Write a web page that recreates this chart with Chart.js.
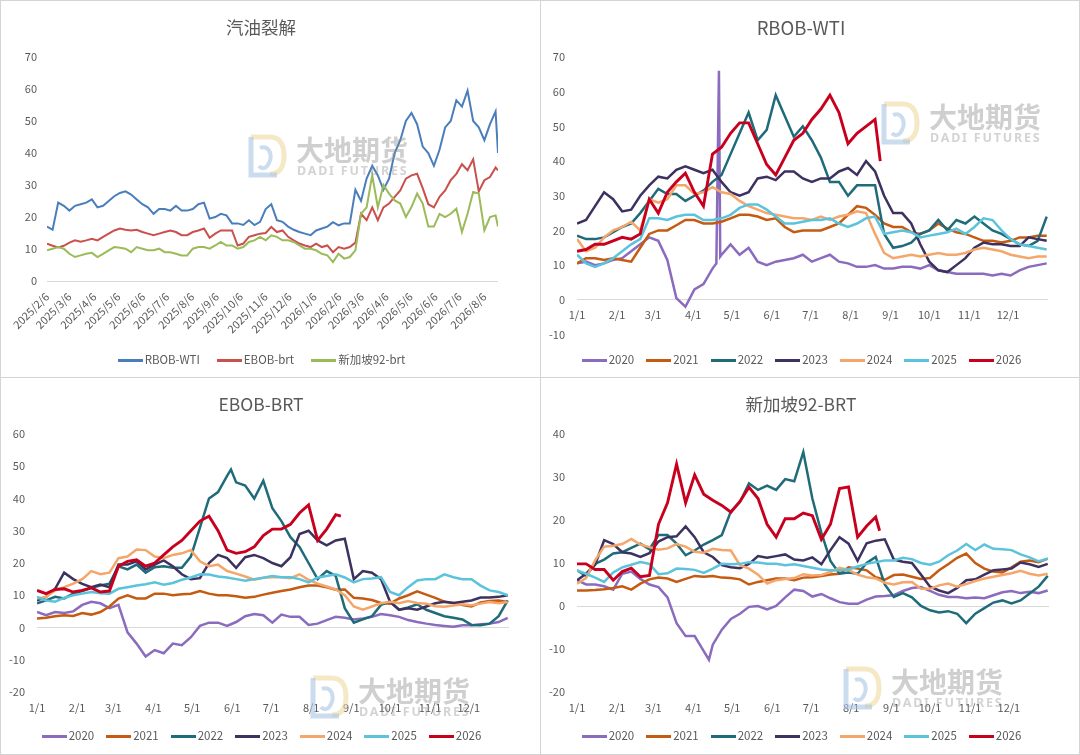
<!DOCTYPE html>
<html>
<head>
<meta charset="utf-8">
<script src="https://cdn.jsdelivr.net/npm/chart.js@4.4.1/dist/chart.umd.min.js"></script>
<style>
  html, body { margin: 0; padding: 0; background: #fff; }
  #board { position: relative; width: 1080px; height: 755px; overflow: hidden;
           font-family: "Noto Sans CJK SC", "Noto Sans", sans-serif; }
  .panel { position: absolute; background: #fff; }
  .plot { position: absolute; left: 0; top: 0; width: 100%; height: 100%; }
  .title { position: absolute; left: 0; width: 522px; top: 15px; line-height: 24px;
           text-align: center; font-size: 17.5px; color: #595959; }
  .legend { position: absolute; left: 0; width: 523px; line-height: 16px; text-align: center;
            font-size: 11.5px; color: #595959; white-space: nowrap; }
  .legend .item { display: inline-block; margin: 0 6px; }
  .legend i { display: inline-block; width: 25px; height: 3px; vertical-align: middle; margin-right: 2px; }
  .mark { position: absolute; width: 180px; height: 50px; pointer-events: none; z-index: 2; }
  .mark svg { position: absolute; left: 0; top: 0; }
  .mk-cn { position: absolute; left: 51px; top: 1px; font-size: 28px; line-height: 30px; font-weight: bold;
           color: rgba(140, 140, 140, 0.42); white-space: nowrap; }
  .mk-en { position: absolute; left: 52px; top: 31px; font-size: 12.5px; line-height: 13px; font-weight: bold;
           letter-spacing: 1.8px; color: rgba(140, 140, 140, 0.38); white-space: nowrap; font-family: "Noto Sans", sans-serif; }
  .rule { position: absolute; background: #d4d4d4; z-index: 3; }
</style>
</head>
<body>
<div id="board">
  <div class="panel" id="pan1" style="left:0;top:0;width:540px;height:377px">
    <div class="plot"><canvas id="c1"></canvas></div>
    <div class="title">汽油裂解</div>
    <div class="legend" id="lg1" style="top:351px"></div>
  </div>
  <div class="panel" id="pan2" style="left:540px;top:0;width:540px;height:377px">
    <div class="plot"><canvas id="c2"></canvas></div>
    <div class="title" style="font-size:18.5px">RBOB-WTI</div>
    <div class="legend" id="lg2" style="top:351px"></div>
  </div>
  <div class="panel" id="pan3" style="left:0;top:377px;width:540px;height:378px">
    <div class="plot"><canvas id="c3"></canvas></div>
    <div class="title">EBOB-BRT</div>
    <div class="legend" id="lg3" style="top:350px"></div>
  </div>
  <div class="panel" id="pan4" style="left:540px;top:377px;width:540px;height:378px">
    <div class="plot"><canvas id="c4"></canvas></div>
    <div class="title">新加坡92-BRT</div>
    <div class="legend" id="lg4" style="top:350px"></div>
  </div>
  <div class="rule" style="left:0;top:0;width:1080px;height:1px"></div>
  <div class="rule" style="left:0;top:754px;width:1080px;height:1px"></div>
  <div class="rule" style="left:0;top:0;width:1px;height:755px"></div>
  <div class="rule" style="left:1079px;top:0;width:1px;height:755px"></div>
  <div class="rule" style="left:540px;top:0;width:1px;height:755px"></div>
  <div class="rule" style="left:0;top:377px;width:1080px;height:1px"></div>
</div>
<script>
// ---- time series (汽油裂解), weekly from 2025/2/6 ----
const TS_NAMES = ['RBOB-WTI', 'EBOB-brt', '新加坡92-brt'];
const TS_COLORS = ['#4a7ebb', '#c9504c', '#9bbb59'];
const TS_TICK_LABELS = ['2025/2/6', '2025/3/6', '2025/4/6', '2025/5/6', '2025/6/6', '2025/7/6', '2025/8/6',
  '2025/9/6', '2025/10/6', '2025/11/6', '2025/12/6', '2026/1/6', '2026/2/6', '2026/3/6', '2026/4/6',
  '2026/5/6', '2026/6/6', '2026/7/6', '2026/8/6'];
const TS_DAYS = Array.from({ length: 81 }, (_, i) => i * 7).concat([563]);

const TS_RBOB = [17, 16, 24.5, 23.5, 22, 23.5, 24, 24.5, 25.5, 23,
  23.5, 25, 26.5, 27.5, 28, 27, 25.5, 24, 23, 21,
  22.5, 22.5, 22, 23.5, 22, 22, 22.5, 24, 24.5, 19.5,
  20, 21, 20.5, 18, 18, 17.5, 19, 17.5, 18.5, 22.5,
  24, 19, 18.5, 17, 16, 15.3, 14.8, 14.3, 15.8, 16.4,
  17, 18.4, 17.4, 18, 18, 28.5, 25, 32, 36, 33,
  28.5, 32, 40, 44, 50, 52.5, 49, 42, 40, 36,
  41, 48, 50, 56.5, 54.5, 59.5, 50, 48, 44, 49,
  53, 40];
const TS_EBOB = [11.7, 11, 10.5, 11, 12, 12.7, 12.3, 12.7, 13.2, 12.7,
  13.8, 14.8, 15.8, 16.4, 16, 15.8, 16, 15.3, 14.8, 14.3,
  14.8, 15.3, 15.8, 15.3, 14.3, 14.3, 15.3, 15.8, 16.4, 13.5,
  14.8, 15.8, 15.8, 15.8, 11.1, 11.7, 13.8, 14.3, 14.8, 15,
  16.9, 15.3, 15.8, 13.8, 12.7, 11.7, 11.1, 10.6, 11.7, 10.6,
  11.1, 9, 10.6, 10.1, 10.6, 12, 21, 19, 23, 19,
  23, 24.2, 26.3, 28.3, 32, 33, 33.5, 29, 24, 23,
  26.3, 28.3, 31.5, 33.5, 36.5, 34.6, 38, 28, 31.5, 32.5,
  35.5, 34.6];
const TS_SG = [9.6, 10.1, 10.6, 10.1, 8.5, 7.5, 8, 8.5, 8.8, 7.5,
  8.5, 9.6, 10.6, 10.4, 10.1, 9, 10.6, 10.1, 9.6, 9.6,
  10.1, 9, 9, 8.5, 8, 8, 10.1, 10.6, 10.6, 10.1,
  11.1, 12.2, 11.1, 11.1, 10.1, 10.6, 12.2, 12.7, 13.8, 12.7,
  14.3, 13.8, 12.7, 12.7, 12.2, 11.1, 10.1, 10.1, 9.6, 8.5,
  8, 5.9, 8.5, 7, 7.5, 9.6, 21, 23, 33, 23,
  30, 27.3, 25.2, 24.2, 20, 23.1, 27.3, 24.2, 17, 17,
  21, 20, 21, 22.6, 15.3, 21, 27.8, 27.3, 15.8, 20,
  20.5, 17];

// ---- seasonal charts, weekly day-of-year ----
const YEARS = ['2020', '2021', '2022', '2023', '2024', '2025', '2026'];
const YEAR_COLORS = ['#8a6bbe', '#c55a11', '#1f6b79', '#3d3160', '#f4a66b', '#5cc3dc', '#c8001e'];
const SEASON_TICK_LABELS = ['1/1', '2/1', '3/1', '4/1', '5/1', '6/1', '7/1', '8/1', '9/1', '10/1', '11/1', '12/1'];
const SEASON_TICK_DAYS = [0, 31, 59, 90, 120, 151, 181, 212, 243, 273, 304, 334];
const SEASON_DAYS = [0, 7, 14, 21, 28, 35, 42, 49, 56, 63, 70, 77, 84, 91, 98, 105, 112, 119, 126, 133,
  140, 147, 154, 161, 168, 175, 182, 189, 196, 203, 210, 217, 224, 231, 238, 245, 252, 259, 266, 273,
  280, 287, 294, 301, 308, 315, 322, 329, 336, 343, 350, 357, 364];

// RBOB-WTI
const RBOB_2020 = [10.5, 11, 10, 10.5, 11.5, 12, 14, 16, 18, 17, 11.5, 0.5, -2, 3, 4.5, 9,
  13, 16, 13, 15, 11, 10, 11, 11.5, 12, 13, 11, 12, 13, 11, 10.5, 9.5, 9.5, 10, 9, 9, 9.5, 9.5,
  9, 10, 8.5, 8, 7.5, 7.5, 7.5, 7.5, 7, 7.5, 7, 8.5, 9.5, 10, 10.5];
const RBOB_2020_EXTRA_DAYS = [108, 110, 111];
const RBOB_2020_EXTRA = [10.5, 66, 12.5];
const RBOB_2021 = [10.5, 12, 12, 11.5, 12, 11.5, 11, 15, 19, 20, 20, 21.5, 23, 23, 22, 22, 22.5, 23.5, 24.5, 24.5,
  24, 23, 23.5, 21, 19.5, 20, 20, 20, 21, 22, 24.5, 27, 26.5, 24.5, 22, 21, 21, 19.5, 19, 20,
  22, 20.5, 19.5, 19, 18, 17, 17, 16.5, 17, 18, 18, 18.5, 18.5];
const RBOB_2022 = [18.5, 17.5, 17.5, 18, 19.5, 21, 22, 25, 28.5, 32, 30.5, 30.5, 28.5, 30, 31.5, 34, 36, 42, 48, 54,
  46, 49, 59, 53, 47, 50, 46, 41, 34, 34, 30, 33, 33, 33, 19, 15, 15.5, 16.5, 19, 20,
  23, 20, 23, 22, 24, 22, 20, 19, 17.5, 16, 15.5, 17, 24];
const RBOB_2023 = [22, 23, 27, 31, 29, 25.5, 26, 30, 33, 35.5, 35, 37.5, 38.5, 37.5, 36.5, 37.5, 34, 31, 30, 31,
  35, 35.5, 34.5, 37, 37, 35, 34, 35, 35, 37, 38, 36, 40, 37, 30, 25, 25, 22, 16, 11,
  8.5, 8, 10, 12, 15, 16.5, 16, 16, 15.5, 15.5, 18, 17.5, 17];
const RBOB_2024 = [17.5, 14, 15, 18, 20, 21, 22.5, 20, 29, 28, 29, 33, 33, 30.5, 31, 32.5, 31, 30.5, 28.5, 27,
  26, 25, 24.5, 24, 23.5, 23.5, 23, 24, 23, 24, 24.5, 25.5, 25, 19, 13.5, 12, 12.5, 13, 12.5, 13,
  13.5, 13, 13, 13.5, 14.5, 15, 14.5, 14, 13, 12.5, 12, 12.5, 12.5];
const RBOB_2025 = [13, 10.5, 9.5, 10.5, 12, 14, 16, 17.5, 23.5, 23.5, 23, 24, 24.5, 24.5, 23, 23, 23.5, 24.5, 26.5, 27.5,
  27.5, 26, 24, 22, 22, 22.5, 23, 23, 23.5, 22, 21, 22, 23.5, 24, 19, 19.5, 20, 19.5, 18, 18.5,
  19, 19.5, 20.5, 19, 21, 23.5, 23, 20, 17.5, 16, 15.5, 15, 14.5];
const RBOB_2026 = [14, 14.5, 16, 16, 17, 18, 17.5, 19, 29, 25, 31, 34, 36.5, 31, 27, 42, 44, 48, 51, 51,
  45, 39, 36, 41, 46, 48, 52, 55, 59, 54, 45, 48, 50, 52];
const RBOB_2026_EXTRA_DAYS = [235];
const RBOB_2026_EXTRA = [40];

// EBOB-BRT
const EBOB_2020 = [4.8, 3.8, 4.8, 4.5, 5, 7, 8, 7.5, 6, 7, -1.5, -5, -9, -7, -8, -5, -5.5, -3, 0.5, 1.5,
  1.5, 0.5, 1.7, 3.5, 4.2, 3.8, 1.5, 4, 3.3, 3.3, 0.8, 1.2, 2.3, 3.3, 3, 2.5, 2.8, 3.3, 4.2, 3.8,
  3.3, 2.3, 1.7, 1.2, 0.8, 0.5, 0.2, 0.7, 0.7, 1, 1.2, 1.7, 3];
const EBOB_2021 = [2.8, 3, 3.5, 3.8, 3.6, 4.5, 4, 4.8, 6.5, 9, 10, 9, 9, 10.5, 10.5, 10, 10.3, 10.5, 11.3, 10.5,
  10, 10, 9.7, 9.2, 9.5, 10.2, 10.8, 11.3, 11.8, 12.5, 13, 13, 12.5, 11.7, 11.8, 9.2, 9, 8.5, 7.6, 7.4,
  9, 10, 11.2, 10.2, 9.2, 8, 7.6, 7, 6.5, 7.8, 8.2, 8.4, 7.9];
const EBOB_2022 = [7.5, 8.4, 9.5, 9, 10.5, 11.3, 12.3, 13, 13.6, 19, 18, 19.5, 17, 18.7, 19, 18.5, 18.5, 22, 31, 40,
  42, 47, 45, 44, 40, 45.5, 37, 33, 28, 25, 20, 15, 17.5, 16, 6, 1.5, 2.5, 3.5, 7, 8,
  5.5, 6.2, 7.2, 5.5, 4.5, 3.5, 3, 2.5, 0.8, 0.7, 1.2, 3.5, 8.4];
const EBOB_2022_EXTRA_DAYS = [150];
const EBOB_2022_EXTRA = [49];
const EBOB_2023 = [8.4, 9.5, 12, 17, 15, 13.5, 12.5, 13.3, 12.5, 19.5, 19.5, 20.5, 18, 19.5, 20.8, 19, 16.5, 15, 15.3, 20,
  22.5, 21.5, 18.5, 21.8, 22.5, 21.5, 20, 19, 21.8, 29, 30, 27, 25.5, 27, 27.5, 15, 17.5, 17, 15, 8,
  5.5, 6, 5.5, 6.5, 7.5, 8, 7.6, 8, 8.4, 9.3, 9.3, 9.5, 10];
const EBOB_2024 = [9, 9.5, 11.5, 12.5, 13.6, 15, 17.5, 16.5, 17, 21.5, 22, 24.2, 24, 22, 21.5, 22.5, 23, 24, 20.5, 19,
  19.5, 17.5, 16.7, 15.8, 14.8, 15.4, 15.6, 15.6, 15.3, 16.5, 14.8, 13.6, 12.7, 11.8, 10, 6.5, 5.5, 6.5, 7.5, 8,
  7.5, 8.2, 7.6, 7.4, 6.6, 6.4, 6.8, 7.2, 6.9, 7.4, 7.9, 7.5, 7.9];
const EBOB_2025 = [9.5, 8.4, 8, 9.2, 10, 10.5, 11, 10.6, 10.5, 12, 12.5, 13, 13.4, 14, 13.3, 13.8, 14.8, 15.5, 16.5, 16.4,
  15.8, 15.5, 15, 14.5, 15, 15.4, 16, 15.6, 15.6, 15, 14, 15.5, 16, 16.5, 15.5, 14, 15, 15.2, 15.6, 11,
  10, 12.5, 14.6, 15, 15, 16.5, 15.6, 15, 15, 13, 11.5, 11, 10];
const EBOB_2026 = [11.5, 10.5, 11.8, 12, 11, 11.5, 12.3, 11, 11.3, 19, 20.5, 21, 19, 20, 22.5, 25, 27, 30, 33, 34.5,
  30, 24, 23, 23.5, 25, 28.5, 30.5, 30.5, 32, 35.5, 38, 27, 30.5, 35];
const EBOB_2026_EXTRA_DAYS = [235];
const EBOB_2026_EXTRA = [34.5];

// 新加坡92-BRT
const SG_2020 = [6, 5, 5, 4.6, 3.8, 7.5, 8, 6.3, 5, 4.4, 2, -4, -7, -7, -10.5, -9, -5.5, -3, -1.8, -0.2,
  0, -0.8, 0, 2, 3.8, 3.5, 2.2, 2.8, 1.8, 0.9, 0.5, 0.5, 1.5, 2.2, 2.3, 2.5, 3.5, 4.2, 4.4, 3.5,
  2.6, 2.1, 2.1, 1.8, 2, 1.8, 2.5, 3.2, 3.5, 3, 3.3, 3, 3.6];
const SG_2020_EXTRA_DAYS = [102];
const SG_2020_EXTRA = [-12.5];
const SG_2021 = [3.6, 3.6, 3.7, 3.9, 4.2, 4.6, 3.8, 5.2, 6.2, 6.6, 6.4, 5.6, 6.3, 7, 6.8, 7, 6.6, 6.5, 6.2, 5,
  5.6, 6, 6.4, 6.4, 6, 6.6, 6.7, 7, 7.3, 7.5, 9, 8.7, 8.3, 6.7, 6.1, 7.2, 7.3, 6.8, 6.3, 6.5,
  8.3, 9.7, 11.2, 12.2, 10, 8.7, 8, 7.8, 9, 10.3, 10.6, 10.2, 11];
const SG_2022 = [8.3, 7, 9.8, 10.8, 12.2, 12.5, 13.5, 14.5, 13.2, 16.5, 16.5, 14.5, 11.8, 12.9, 14.3, 15.3, 16.5, 22, 24.2, 28.5,
  27, 28, 27, 29.5, 29, 35.8, 25, 17, 10.5, 7.5, 7.8, 7.5, 10, 11.4, 5, 2.1, 3, 2, 0, -1,
  -1.5, -1.2, -1.8, -4, -1.8, -0.5, 0.8, 1.3, 0.6, 1.3, 2.9, 4.5, 7];
const SG_2023 = [6, 7.5, 9.6, 15.3, 14.4, 12.5, 12.2, 11.4, 12.3, 15, 16, 16.2, 18.5, 16, 12.5, 11.4, 9.5, 9, 8.8, 9.8,
  11.6, 11.2, 11.6, 12, 10.8, 10.6, 11.3, 9.7, 13, 16, 14.5, 10.5, 14.6, 15.2, 15.5, 10.8, 10.3, 10, 7.3, 4.5,
  3.6, 3, 4.2, 6, 6.2, 7.3, 8.3, 8.5, 8.7, 10.1, 9.7, 9.1, 9.8];
const SG_2024 = [5.2, 6.5, 10.6, 13.8, 14, 14.4, 15.6, 14.3, 13.7, 13.1, 13.4, 14.4, 13.8, 12.6, 12.4, 13.3, 13, 12.9, 9.5, 8.7,
  7.3, 5.2, 6, 6.3, 6.5, 7.4, 7.1, 7.2, 7.9, 8.9, 8.4, 7.3, 6.7, 6.4, 5.4, 5, 5.5, 5.6, 4, 4,
  4.8, 5.2, 4.5, 5.1, 5.8, 6.4, 6.8, 7.2, 7.6, 8.2, 7.5, 7.1, 7.5];
const SG_2025 = [8.3, 7.5, 6.6, 5.6, 7.8, 9, 9.6, 10.2, 9.8, 7.4, 7.6, 8.7, 8.6, 8.4, 7.7, 8.7, 9.8, 9.7, 9.8, 10.2,
  10.1, 9.8, 9.8, 9.5, 9.7, 9.3, 8.9, 8.5, 8.3, 8.3, 8.5, 9.2, 9.8, 10.2, 10.6, 10.6, 11.2, 10.9, 10, 9.6,
  10.3, 11.8, 12.9, 14.4, 13, 14.3, 13.3, 13.2, 13, 12, 11.3, 10.4, 11];
const SG_2026 = [9.8, 9.8, 8.5, 8.5, 6, 8, 8.8, 6.8, 7.1, 19, 24, 33, 24, 30.5, 26, 24.6, 23.4, 21.8, 24.3, 27.6,
  25, 19, 16, 20.3, 20.3, 21.6, 21, 15.5, 19, 27.3, 27.7, 16, 18.6, 20.7];
const SG_2026_EXTRA_DAYS = [234];
const SG_2026_EXTRA = [17.5];

const TICK_COLOR = '#595959';
Chart.defaults.font.family = '"Noto Sans CJK SC", "Noto Sans", sans-serif';
Chart.defaults.font.size = 11;
Chart.defaults.color = TICK_COLOR;

function points(days, values, extraDays = [], extraValues = []) {
  const pts = values.map((v, i) => ({ x: days[i], y: v }));
  extraDays.forEach((d, i) => pts.push({ x: d, y: extraValues[i] }));
  return pts.sort((a, b) => a.x - b.x);
}

function zeroGrid(ctx) {
  return ctx.tick && ctx.tick.value === 0 ? '#d9d9d9' : 'rgba(0,0,0,0)';
}

function yScale(min, max, width, pad) {
  return {
    min: min,
    max: max,
    afterFit: scale => { scale.width = width; },
    border: { display: false },
    grid: { drawTicks: false, color: zeroGrid, lineWidth: 1 },
    ticks: { stepSize: 10, padding: pad, color: TICK_COLOR }
  };
}

function makeLegend(id, names, colors) {
  const el = document.getElementById(id);
  el.innerHTML = names.map((n, i) =>
    `<span class="item"><i style="background:${colors[i]}"></i>${n}</span>`).join('');
}

const LOGO_SVG = '<svg width="44" height="46" viewBox="0 0 44 46">' +
  '<path d="M6 4 H25 C36 4 39 14 39 23 C39 33 35 41 25 41" fill="none" stroke="rgba(236,214,150,0.55)" stroke-width="5"/>' +
  '<path d="M6 4 V42 H32" fill="none" stroke="rgba(170,196,228,0.6)" stroke-width="5"/>' +
  '<path d="M15 15 C24 11 28 22 24 30 C22 35 17 37 14 33" fill="none" stroke="rgba(170,196,228,0.6)" stroke-width="4"/>' +
  '</svg>';

function addMark(panelId, x, y) {
  const m = document.createElement('div');
  m.className = 'mark';
  m.style.left = x + 'px';
  m.style.top = y + 'px';
  m.innerHTML = LOGO_SVG + '<div class="mk-cn">大地期货</div><div class="mk-en">DADI FUTURES</div>';
  document.getElementById(panelId).appendChild(m);
}

// ---- chart 1: 汽油裂解 ----
const TS_T0 = Date.UTC(2025, 1, 6);
const TS_TICK_DAYS = TS_TICK_LABELS.map(s => {
  const [y, m, d] = s.split('/').map(Number);
  return Math.round((Date.UTC(y, m - 1, d) - TS_T0) / 864e5);
});
const TS_VALUES = [TS_RBOB, TS_EBOB, TS_SG];

new Chart(document.getElementById('c1'), {
  type: 'line',
  data: {
    datasets: TS_NAMES.map((name, i) => ({
      label: name,
      data: points(TS_DAYS, TS_VALUES[i]),
      borderColor: TS_COLORS[i],
      borderWidth: 2,
      pointRadius: 0,
      fill: false,
      order: TS_NAMES.length - 1 - i
    }))
  },
  options: {
    responsive: true,
    maintainAspectRatio: false,
    animation: false,
    layout: { padding: { left: 0, right: 42, top: 57, bottom: 36 } },
    plugins: { legend: { display: false }, title: { display: false }, tooltip: { enabled: false } },
    elements: { line: { tension: 0 } },
    scales: {
      x: {
        type: 'linear',
        min: 0,
        max: 563,
        afterBuildTicks: scale => { scale.ticks = TS_TICK_DAYS.map(v => ({ value: v })); },
        afterFit: scale => { scale.height = 60; },
        border: { display: false },
        grid: { display: false, drawTicks: false },
        ticks: {
          autoSkip: false,
          minRotation: 45,
          maxRotation: 45,
          padding: 9,
          color: TICK_COLOR,
          callback: v => TS_TICK_LABELS[TS_TICK_DAYS.indexOf(v)] || ''
        }
      },
      y: yScale(0, 70, 47, 10)
    }
  }
});
makeLegend('lg1', TS_NAMES, TS_COLORS);
document.querySelector('#lg1').querySelectorAll('.item').forEach(it => { it.style.margin = '0 8.5px'; });

// ---- seasonal charts ----
function seasonalChart(canvasId, byYear, extras, yMin, yMax, opts) {
  const datasets = YEARS.map((year, i) => {
    const ex = extras[year] || [[], []];
    return {
      label: year,
      data: points(SEASON_DAYS, byYear[i], ex[0], ex[1]),
      borderColor: YEAR_COLORS[i],
      borderWidth: year === '2026' ? 2.9 : 2.5,
      pointRadius: 0,
      fill: false,
      order: YEARS.length - 1 - i
    };
  });
  const xScale = {
    type: 'linear',
    min: 0,
    max: 365,
    position: opts.xAtZero ? { y: 0 } : 'bottom',
    afterBuildTicks: scale => { scale.ticks = SEASON_TICK_DAYS.map(v => ({ value: v })); },
    border: { display: false },
    grid: { display: false, drawTicks: false },
    ticks: {
      autoSkip: false,
      maxRotation: 0,
      padding: opts.xPad,
      color: TICK_COLOR,
      callback: v => SEASON_TICK_LABELS[SEASON_TICK_DAYS.indexOf(v)] || ''
    }
  };
  if (!opts.xAtZero) xScale.afterFit = scale => { scale.height = 30; };
  return new Chart(document.getElementById(canvasId), {
    type: 'line',
    data: { datasets },
    options: {
      responsive: true,
      maintainAspectRatio: false,
      animation: false,
      layout: { padding: { left: 0, right: opts.padRight, top: 57, bottom: opts.padBottom } },
      plugins: { legend: { display: false }, title: { display: false }, tooltip: { enabled: false } },
      elements: { line: { tension: 0 } },
      scales: { x: xScale, y: yScale(yMin, yMax, 37, 12) }
    }
  });
}

seasonalChart('c2',
  [RBOB_2020, RBOB_2021, RBOB_2022, RBOB_2023, RBOB_2024, RBOB_2025, RBOB_2026],
  { '2020': [RBOB_2020_EXTRA_DAYS, RBOB_2020_EXTRA], '2026': [RBOB_2026_EXTRA_DAYS, RBOB_2026_EXTRA] },
  -10, 70, { xAtZero: true, xPad: 8, padRight: 32, padBottom: 42.5 });

seasonalChart('c3',
  [EBOB_2020, EBOB_2021, EBOB_2022, EBOB_2023, EBOB_2024, EBOB_2025, EBOB_2026],
  { '2022': [EBOB_2022_EXTRA_DAYS, EBOB_2022_EXTRA], '2026': [EBOB_2026_EXTRA_DAYS, EBOB_2026_EXTRA] },
  -20, 60, { xAtZero: false, xPad: 9, padRight: 31, padBottom: 33 });

seasonalChart('c4',
  [SG_2020, SG_2021, SG_2022, SG_2023, SG_2024, SG_2025, SG_2026],
  { '2020': [SG_2020_EXTRA_DAYS, SG_2020_EXTRA], '2026': [SG_2026_EXTRA_DAYS, SG_2026_EXTRA] },
  -20, 40, { xAtZero: false, xPad: 9, padRight: 31, padBottom: 33 });

['lg2', 'lg3', 'lg4'].forEach(id => makeLegend(id, YEARS, YEAR_COLORS));

addMark('pan1', 245, 133);
addMark('pan2', 338, 100);
addMark('pan3', 307, 297);
addMark('pan4', 300, 288);
</script>
</body>
</html>
